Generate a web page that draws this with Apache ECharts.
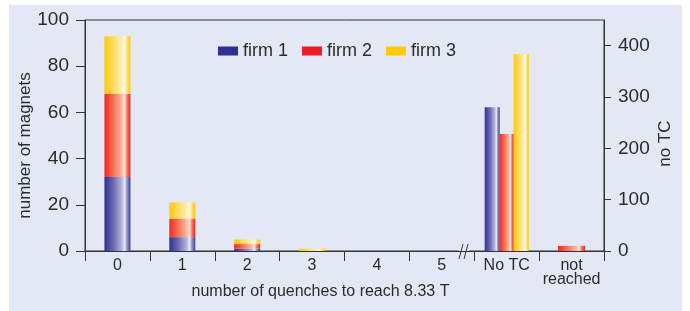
<!DOCTYPE html>
<html>
<head>
<meta charset="utf-8">
<script src="https://cdn.jsdelivr.net/npm/echarts@6/dist/echarts.min.js"></script>
<style>
  html, body { margin: 0; padding: 0; background: #fff; }
  #chart { width: 690px; height: 311px; }
</style>
</head>
<body>
<div id="chart"></div>
<script>
// categories on the bottom axis
const categories = ['0', '1', '2', '3', '4', '5', 'No TC', 'not reached']
// number of magnets per number of quenches (left axis, stacked)
const firm1Quench = [32, 6, 1, 0, 0, 0]
const firm2Quench = [36, 8, 2, 0, 0, 0]
const firm3Quench = [25, 7, 2, 1, 0, 0]
// "No TC" group (right axis)
const firm1NoTC = 280
const firm2NoTC = 228
const firm3NoTC = 384
// "not reached" (right axis)
const firm2NotReached = 10
const rightTicks = [0, 100, 200, 300, 400]

const FONT = "'Liberation Sans Narrow', 'Arial Narrow', 'Liberation Sans', sans-serif"
const TEXT = '#2b2b2b'
const LINE = '#333'

function barGradient(stops) {
  return new echarts.graphic.LinearGradient(0, 0, 1, 0,
    stops.map(([offset, color]) => ({ offset, color })))
}
const blueFill = barGradient([[0, '#2e3192'], [0.35, '#6a6ab4'], [0.68, '#b8b8de'], [0.78, '#ececf8'], [0.86, '#9a9acc'], [1, '#3a3c98']])
const redFill = barGradient([[0, '#ee2a24'], [0.3, '#f6684e'], [0.65, '#fbb49c'], [0.78, '#fde2d6'], [0.87, '#f77a66'], [1, '#ec2226']])
const yellowFill = barGradient([[0, '#ffc90a'], [0.35, '#ffdc60'], [0.65, '#ffedb0'], [0.77, '#fffbea'], [0.87, '#ffe070'], [1, '#ffc800']])

const pad = (arr, before, after) => [...Array(before).fill(null), ...arr, ...Array(after).fill(null)]

const chart = echarts.init(document.getElementById('chart'))

const hiddenCat = (idx) => ({
  type: 'category',
  data: categories,
  gridIndex: 0,
  show: false,
  id: 'x' + idx
})

chart.setOption({
  animation: false,
  backgroundColor: '#fff',
  textStyle: { fontFamily: FONT, color: TEXT },
  graphic: [
    {
      type: 'rect',
      z: -10,
      silent: true,
      shape: { x: 9, y: 5, width: 673, height: 306 },
      style: { fill: '#e4e8f4' }
    },
    // axis break mark
    {
      type: 'group',
      z: 100,
      children: [
        { type: 'rect', shape: { x: 459, y: 248, width: 10, height: 6 }, style: { fill: '#e4e8f4' } },
        { type: 'line', shape: { x1: 463, y1: 244, x2: 459, y2: 259 }, style: { stroke: LINE, lineWidth: 1 } },
        { type: 'line', shape: { x1: 468, y1: 244, x2: 464, y2: 259 }, style: { stroke: LINE, lineWidth: 1 } }
      ]
    }
  ],
  legend: {
    left: 213,
    top: 37,
    icon: 'rect',
    itemWidth: 20,
    itemHeight: 9,
    itemGap: 14,
    textStyle: { fontFamily: FONT, fontSize: 18, color: TEXT },
    data: [
      { name: 'firm 1', itemStyle: { color: '#2e3192' } },
      { name: 'firm 2', itemStyle: { color: '#ee1c25' } },
      { name: 'firm 3', itemStyle: { color: '#ffcb05' } }
    ]
  },
  grid: {
    left: 85,
    right: 86,
    top: 20,
    bottom: 60,
    outerBoundsMode: 'none',
    show: true,
    borderColor: LINE,
    borderWidth: 1,
    backgroundColor: 'transparent'
  },
  xAxis: [
    {
      type: 'category',
      data: categories.map((c) => (c === 'not reached' ? 'not\nreached' : c)),
      name: 'number of quenches to reach 8.33 T',
      nameLocation: 'middle',
      nameGap: 33,
      nameMoveOverlap: false,
      nameTextStyle: { fontFamily: FONT, fontSize: 16, color: TEXT, padding: [0, 48, 0, 0] },
      axisLine: { show: true, lineStyle: { color: LINE, width: 1 } },
      axisTick: { show: true, alignWithLabel: false, interval: 0, length: 10, lineStyle: { color: LINE } },
      axisLabel: { fontFamily: FONT, fontSize: 16, color: TEXT, margin: 8, lineHeight: 14, interval: 0 }
    },
    hiddenCat(1),
    hiddenCat(2)
  ],
  yAxis: [
    {
      type: 'value',
      min: 0,
      max: 100,
      interval: 20,
      name: 'number of magnets',
      nameLocation: 'middle',
      nameRotate: 90,
      nameGap: 51,
      nameMoveOverlap: false,
      nameTextStyle: { fontFamily: FONT, fontSize: 17, color: TEXT, padding: [0, 20, 0, 0] },
      axisLine: { show: true, lineStyle: { color: LINE } },
      axisTick: { show: true, length: 9, lineStyle: { color: LINE } },
      axisLabel: { fontFamily: FONT, fontSize: 19, color: TEXT, margin: 16 },
      splitLine: { show: false }
    },
    {
      type: 'value',
      position: 'right',
      min: 0,
      max: 450,
      name: 'no TC',
      nameLocation: 'middle',
      nameRotate: 90,
      nameGap: 53,
      nameMoveOverlap: false,
      nameTextStyle: { fontFamily: FONT, fontSize: 17, color: TEXT, padding: [0, 16, 0, 0] },
      axisLine: { show: true, lineStyle: { color: LINE } },
      axisTick: { show: true, length: 7, lineStyle: { color: LINE }, customValues: rightTicks },
      axisLabel: { fontFamily: FONT, fontSize: 19, color: TEXT, margin: 14, customValues: rightTicks },
      splitLine: { show: false }
    }
  ],
  series: [
    { name: 'firm 1', type: 'bar', stack: 'q', xAxisIndex: 0, yAxisIndex: 0, barWidth: 26, itemStyle: { color: blueFill }, data: pad(firm1Quench, 0, 2) },
    { name: 'firm 2', type: 'bar', stack: 'q', xAxisIndex: 0, yAxisIndex: 0, barWidth: 26, itemStyle: { color: redFill }, data: pad(firm2Quench, 0, 2) },
    { name: 'firm 3', type: 'bar', stack: 'q', xAxisIndex: 0, yAxisIndex: 0, barWidth: 26, itemStyle: { color: yellowFill }, data: pad(firm3Quench, 0, 2) },

    { name: 'firm 1', type: 'bar', xAxisIndex: 1, yAxisIndex: 1, barWidth: 15, barGap: '0%', itemStyle: { color: blueFill }, data: pad([firm1NoTC], 6, 1) },
    { name: 'firm 2', type: 'bar', xAxisIndex: 1, yAxisIndex: 1, barWidth: 14, barGap: '0%', itemStyle: { color: redFill }, data: pad([firm2NoTC], 6, 1) },
    { name: 'firm 3', type: 'bar', xAxisIndex: 1, yAxisIndex: 1, barWidth: 15, barGap: '0%', itemStyle: { color: yellowFill }, data: pad([firm3NoTC], 6, 1) },

    { name: 'firm 2', type: 'bar', xAxisIndex: 2, yAxisIndex: 1, barWidth: 27, itemStyle: { color: redFill }, data: pad([firm2NotReached], 7, 0) }
  ]
})
</script>
</body>
</html>
